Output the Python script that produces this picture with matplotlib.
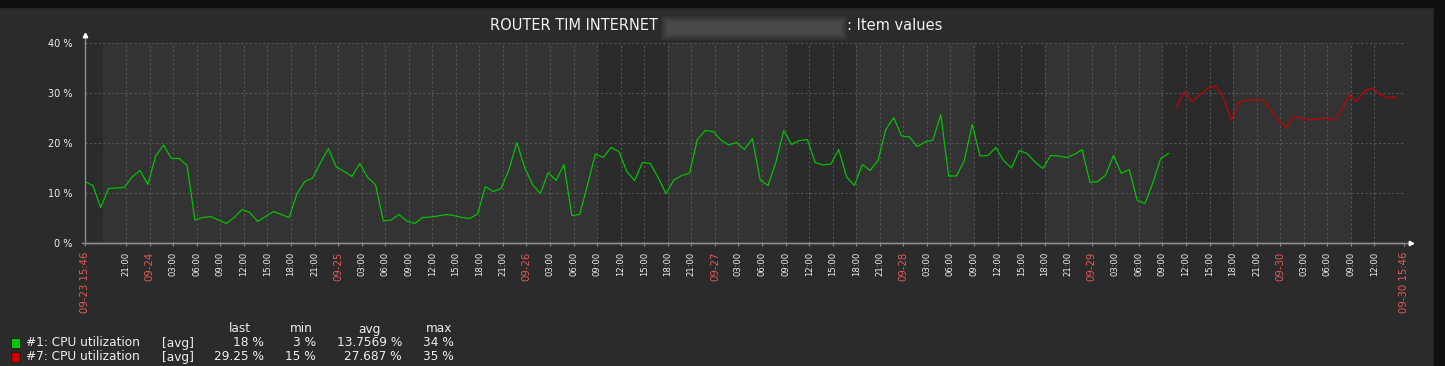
import matplotlib
matplotlib.use("Agg")
import matplotlib.pyplot as plt
from matplotlib.patches import Rectangle
from datetime import datetime, timedelta

start = datetime(2022, 9, 23, 15, 46)
end = datetime(2022, 9, 30, 15, 46)

# hourly values (%), #1 starts at the graph start
cpu1 = [12.3, 11.5, 7.1, 10.9, 11.0, 11.1, 13.2, 14.5, 11.7, 17.4,
        19.6, 16.9, 16.9, 15.5, 4.6, 5.1, 5.3, 4.6, 3.9, 5.1,
        6.7, 6.1, 4.3, 5.3, 6.3, 5.7, 5.1, 9.9, 12.3, 13.0,
        16.1, 18.9, 15.2, 14.3, 13.3, 15.9, 13.1, 11.7, 4.4, 4.6,
        5.7, 4.4, 3.9, 5.1, 5.2, 5.4, 5.7, 5.5, 5.1, 4.9,
        5.8, 11.3, 10.3, 10.9, 14.7, 20.1, 15.1, 11.7, 9.9, 14.1,
        12.5, 15.7, 5.5, 5.7, 11.6, 17.8, 17.1, 19.1, 18.3, 14.3,
        12.5, 16.1, 15.9, 13.1, 9.9, 12.6, 13.5, 14.0, 20.7, 22.5,
        22.3, 20.6, 19.6, 20.1, 18.7, 20.9, 12.6, 11.5, 16.2, 22.5,
        19.7, 20.5, 20.7, 16.1, 15.6, 15.8, 18.7, 13.2, 11.5, 15.7,
        14.5, 16.5, 22.7, 25.1, 21.4, 21.2, 19.3, 20.2, 20.6, 25.7,
        13.4, 13.4, 16.5, 23.7, 17.4, 17.5, 19.1, 16.5, 15.0, 18.5,
        17.9, 16.2, 14.9, 17.5, 17.4, 17.1, 17.7, 18.7, 12.1, 12.3,
        13.6, 17.5, 13.9, 14.7, 8.6, 7.9, 12.0, 16.9, 17.9]

# #7 starts 139 hours after the graph start
cpu7_offset = 139
cpu7 = [27.1, 30.3, 28.3, 29.7, 30.9, 31.4, 29.2, 24.5, 28.1, 28.6,
        28.6, 28.7, 26.7, 24.5, 23.1, 25.3, 25.0, 24.6, 24.9, 25.0,
        24.5, 26.5, 29.6, 28.3, 30.5, 31.0, 29.6, 29.1, 29.2]

work_days = [23, 26, 27, 28, 29, 30]   # september, 09:00-18:00

legend_names = ["#1: CPU utilization", "#7: CPU utilization"]
legend_colors = ["#00c800", "#c80000"]
legend_last = ["18 %", "29.25 %"]
legend_min = ["3 %", "15 %"]
legend_avg = ["13.7569 %", "27.687 %"]
legend_max = ["34 %", "35 %"]

W, H = 1445, 366
txt = "#eeeeee"
red_txt = "#e45959"
axis_c = "#8c8c8c"

fig = plt.figure(figsize=(W / 100, H / 100), dpi=100, facecolor="#2b2b2b")
fig.patches.append(Rectangle((0, 1 - 7 / H), 1, 7 / H, transform=fig.transFigure,
                             color="#0e0f11", zorder=0))
fig.patches.append(Rectangle((1434 / W, 0), 11 / W, 1, transform=fig.transFigure,
                             color="#0e0f11", zorder=0))

ax = fig.add_axes([85 / W, 123 / H, 1319 / W, 200 / H])
ax.set_facecolor("#333333")
ax.set_xlim(start, end)
ax.set_ylim(0, 40)

for d in work_days:
    a = max(start, datetime(2022, 9, d, 9))
    b = min(end, datetime(2022, 9, d, 18))
    ax.axvspan(a, b, color="#2b2b2b", lw=0, zorder=0)

t1 = [start + timedelta(hours=i) for i in range(len(cpu1))]
t7 = [start + timedelta(hours=cpu7_offset + i) for i in range(len(cpu7))]
ax.plot(t1, cpu1, color=legend_colors[0], lw=0.85, zorder=3)
ax.plot(t7, cpu7, color=legend_colors[1], lw=0.85, zorder=3)

# x ticks every 3 hours, plus the start and end labels
ticks = [start]
t = datetime(2022, 9, 23, 21)
while t <= datetime(2022, 9, 30, 12):
    ticks.append(t)
    t += timedelta(hours=3)
ticks.append(end)
labels = []
for t in ticks:
    if t == start or t == end:
        labels.append(t.strftime("%m-%d %H:%M"))
    elif t.hour == 0:
        labels.append(t.strftime("%m-%d"))
    else:
        labels.append(t.strftime("%H:%M"))
ax.set_xticks(ticks)
ax.set_xticklabels(labels, rotation=90)
for lab, t in zip(ax.get_xticklabels(), ticks):
    if t.hour == 0 or t == start or t == end:
        lab.set_color(red_txt)
        lab.set_fontsize(7.3)
    else:
        lab.set_color(txt)
        lab.set_fontsize(6.1)

ax.set_yticks([0, 10, 20, 30, 40])
ax.set_yticklabels(["%d %%" % v for v in [0, 10, 20, 30, 40]], color=txt, fontsize=7)
ax.tick_params(axis="x", length=2, color=axis_c, pad=4)
ax.tick_params(axis="y", length=0, pad=9)

ax.grid(True, color="#555555", linestyle=(0, (2, 2)), lw=0.8, zorder=1)
ax.set_axisbelow(True)

for s in ["top", "right"]:
    ax.spines[s].set_visible(False)
for s in ["left", "bottom"]:
    ax.spines[s].set_color(axis_c)
    ax.spines[s].set_linewidth(1)
    ax.spines[s].set_zorder(4)

# axis extensions with small arrows
ax.plot([0, 0], [1, 1.035], transform=ax.transAxes, clip_on=False, color=axis_c, lw=1)
ax.plot([-0.002, 1.005], [0, 0], transform=ax.transAxes, clip_on=False, color=axis_c, lw=1)
ax.plot([0], [1.04], marker="^", ms=3.2, color="white", transform=ax.transAxes, clip_on=False)
ax.plot([1.005], [0], marker=">", ms=3.2, color="white", transform=ax.transAxes, clip_on=False)

# title with a hidden (blurred) host name
ty = 1 - 26 / H
fig.text(490 / W, ty, "ROUTER TIM INTERNET", color="#f2f2f2", fontsize=10.5,
         ha="left", va="center")
for k, al in enumerate([0.25, 0.35, 0.5, 0.7]):
    fig.patches.append(Rectangle(((661 + 2 * k) / W, 1 - (40 - 2 * k) / H),
                                 (186 - 4 * k) / W, (24 - 4 * k) / H,
                                 transform=fig.transFigure, color="#4c4c4c",
                                 alpha=al, lw=0, zorder=1))
fig.text(847 / W, ty, ": Item values", color="#f2f2f2", fontsize=10.5,
         ha="left", va="center")

# legend table
hy = 1 - 329 / H
for x, s in [(240, "last"), (301, "min"), (369, "avg"), (439, "max")]:
    fig.text(x / W, hy, s, color=txt, fontsize=8.7, ha="center", va="center")
for r in range(2):
    y = 1 - (343 + 14 * r) / H
    fig.patches.append(Rectangle((10.5 / W, y - 5 / H), 9.5 / W, 10 / H,
                                 transform=fig.transFigure, facecolor=legend_colors[r],
                                 edgecolor="#1a1a1a", lw=0.6))
    fig.text(26 / W, y, legend_names[r], color=txt, fontsize=8.7, ha="left", va="center")
    fig.text(162 / W, y, "[avg]", color=txt, fontsize=8.7, ha="left", va="center")
    fig.text(264 / W, y, legend_last[r], color=txt, fontsize=8.7, ha="right", va="center")
    fig.text(316 / W, y, legend_min[r], color=txt, fontsize=8.7, ha="right", va="center")
    fig.text(402 / W, y, legend_avg[r], color=txt, fontsize=8.7, ha="right", va="center")
    fig.text(454 / W, y, legend_max[r], color=txt, fontsize=8.7, ha="right", va="center")

fig.savefig("out.png", dpi=100, facecolor=fig.get_facecolor())
